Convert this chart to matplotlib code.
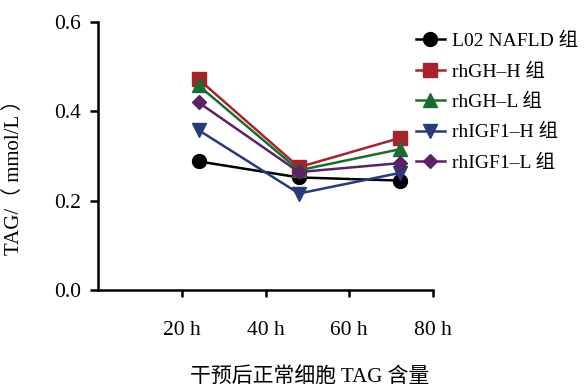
import matplotlib
matplotlib.use("Agg")
import matplotlib.pyplot as plt

plt.rcParams["font.family"] = ["Liberation Serif", "Noto Sans CJK SC"]

hours = [24, 48, 72]
groups = ["L02 NAFLD 组", "rhGH\u2013H 组", "rhGH\u2013L 组", "rhIGF1\u2013H 组", "rhIGF1\u2013L 组"]
tag_l02 = [0.288, 0.252, 0.245]
tag_gh_h = [0.472, 0.275, 0.340]
tag_gh_l = [0.458, 0.268, 0.315]
tag_igf_h = [0.358, 0.216, 0.262]
tag_igf_l = [0.420, 0.264, 0.284]
x_ticks = [20, 40, 60, 80]
x_ticklabels = ["20 h", "40 h", "60 h", "80 h"]
y_ticks = [0.0, 0.2, 0.4, 0.6]

series = [tag_l02, tag_gh_h, tag_gh_l, tag_igf_h, tag_igf_l]
colors = ["#000000", "#a3252b", "#1c6b30", "#283a7c", "#5c2262"]
markers = ["o", "s", "^", "v", "D"]
msizes = [10, 10, 10, 10, 7.5]

fig = plt.figure(figsize=(5.84, 3.87), dpi=100)
ax = fig.add_axes([98 / 584, 1 - 290 / 387, (433 - 98) / 584, (290 - 22) / 387])

for vals, label, c, m, ms in zip(series, groups, colors, markers, msizes):
    ax.plot(hours, vals, color=c, marker=m, markersize=ms, linewidth=1.8,
            label=label, clip_on=False)

ax.set_xlim(0, 80)
ax.set_ylim(0, 0.6)
ax.set_xticks(x_ticks)
ax.set_xticklabels(x_ticklabels)
ax.set_yticks(y_ticks)
ax.set_yticklabels([f"{v:.1f}" for v in y_ticks])
ax.tick_params(labelsize=15.5, width=1.8, color="black")
ax.tick_params(axis="y", length=6, pad=6)
ax.tick_params(axis="x", length=5, pad=17)
ax.spines["top"].set_visible(False)
ax.spines["right"].set_visible(False)
for s in ("left", "bottom"):
    ax.spines[s].set_linewidth(1.8)

ax.set_ylabel("TAG/（ mmol/L ）", fontsize=15)
ax.yaxis.set_label_coords(-0.22, 0.44)

fig.text(310 / 584, 1 - 377 / 387, "干预后正常细胞 TAG 含量", fontsize=15,
         ha="center", va="center")

leg = ax.legend(loc="upper left", bbox_to_anchor=(0.925, 0.99), frameon=False,
                fontsize=14, handlelength=1.5, handletextpad=0.35,
                labelspacing=0.66, borderaxespad=0)

fig.savefig("out.png", dpi=100)
